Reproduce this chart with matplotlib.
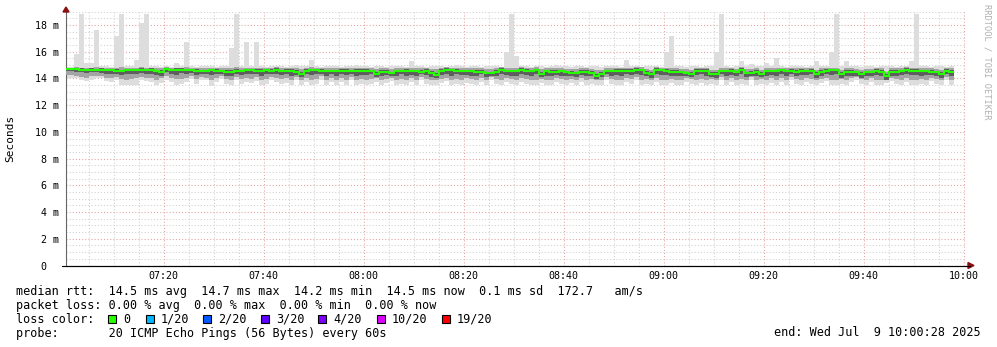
import numpy as np
import matplotlib
matplotlib.use("Agg")
import matplotlib.pyplot as plt
from matplotlib.ticker import MultipleLocator
from matplotlib.patches import Rectangle, Polygon

# minutes after 07:00, one column per minute (20 pings each), values in ms
# median rtt
med = [
    14.70, 14.70, 14.70, 14.66, 14.63, 14.63, 14.63, 14.63, 14.60, 14.60,
    14.55, 14.55, 14.61, 14.60, 14.60, 14.63, 14.63, 14.63, 14.55, 14.48,
    14.68, 14.61, 14.63, 14.65, 14.60, 14.60, 14.55, 14.53, 14.53, 14.61,
    14.58, 14.53, 14.48, 14.48, 14.55, 14.55, 14.60, 14.60, 14.57, 14.57,
    14.61, 14.55, 14.63, 14.55, 14.58, 14.58, 14.48, 14.35, 14.57, 14.61,
    14.61, 14.55, 14.55, 14.53, 14.53, 14.58, 14.58, 14.55, 14.57, 14.57,
    14.58, 14.53, 14.35, 14.48, 14.48, 14.38, 14.53, 14.53, 14.55, 14.53,
    14.53, 14.47, 14.57, 14.42, 14.28, 14.55, 14.63, 14.60, 14.55, 14.55,
    14.53, 14.53, 14.50, 14.50, 14.38, 14.38, 14.47, 14.63, 14.53, 14.53,
    14.53, 14.62, 14.55, 14.55, 14.62, 14.36, 14.53, 14.48, 14.48, 14.53,
    14.45, 14.43, 14.40, 14.50, 14.50, 14.42, 14.20, 14.35, 14.53, 14.53,
    14.58, 14.55, 14.55, 14.58, 14.62, 14.62, 14.43, 14.35, 14.62, 14.60,
    14.58, 14.48, 14.48, 14.45, 14.40, 14.35, 14.57, 14.57, 14.57, 14.35,
    14.35, 14.53, 14.53, 14.57, 14.45, 14.63, 14.38, 14.42, 14.48, 14.35,
    14.53, 14.53, 14.53, 14.60, 14.53, 14.58, 14.48, 14.58, 14.53, 14.58,
    14.35, 14.48, 14.58, 14.60, 14.60, 14.35, 14.48, 14.48, 14.45, 14.35,
    14.45, 14.45, 14.57, 14.48, 14.18, 14.48, 14.48, 14.53, 14.63, 14.57,
    14.57, 14.53, 14.53, 14.50, 14.45, 14.33, 14.57, 14.50,
]
# slowest ping
hi = [
    14.85, 14.85, 15.80, 18.80, 15.15, 15.15, 17.60, 14.95, 14.90, 14.85,
    17.15, 18.80, 14.95, 14.90, 15.40, 18.15, 18.80, 14.90, 14.95, 14.85,
    14.90, 14.85, 15.15, 14.95, 16.70, 14.90, 14.85, 14.95, 14.90, 14.95,
    14.85, 14.90, 14.95, 16.30, 18.80, 14.90, 16.70, 14.95, 16.70, 14.90,
    14.85, 14.95, 14.90, 14.95, 14.85, 14.90, 15.00, 14.95, 14.90, 15.40,
    14.95, 14.85, 14.90, 14.95, 14.90, 14.85, 14.95, 14.90, 15.00, 14.90,
    14.90, 14.85, 14.95, 14.90, 14.85, 14.95, 14.90, 14.95, 14.85, 15.30,
    14.90, 14.95, 14.85, 14.90, 14.95, 14.90, 14.85, 14.95, 15.00, 14.90,
    14.85, 14.95, 14.90, 14.85, 14.95, 14.90, 14.95, 14.85, 16.00, 18.80,
    15.70, 14.90, 14.95, 14.85, 14.90, 14.95, 14.85, 14.90, 15.00, 14.95,
    14.90, 14.85, 14.95, 14.90, 14.85, 14.95, 14.90, 14.85, 14.95, 14.90,
    14.95, 14.85, 15.40, 14.90, 14.95, 14.85, 14.90, 14.95, 14.90, 14.85,
    16.00, 17.15, 14.90, 14.95, 14.85, 14.90, 14.95, 14.85, 14.90, 14.95,
    16.00, 18.80, 14.90, 14.85, 14.95, 15.30, 14.90, 15.05, 14.95, 14.90,
    15.15, 14.90, 15.55, 14.95, 14.85, 14.90, 14.95, 14.90, 14.85, 14.95,
    15.30, 14.90, 14.95, 16.00, 18.80, 14.90, 15.30, 14.95, 14.90, 14.85,
    14.95, 14.90, 14.85, 14.95, 14.90, 14.95, 14.85, 14.90, 14.95, 15.30,
    18.80, 14.95, 14.90, 14.85, 14.95, 14.90, 14.85, 14.90,
]
# fastest ping
lo = [
    14.05, 14.05, 14.05, 13.85, 13.80, 13.85, 14.05, 14.00, 13.80, 13.75,
    13.85, 13.55, 13.55, 13.55, 13.55, 13.85, 13.80, 13.75, 13.55, 13.65,
    13.90, 13.75, 13.55, 13.60, 13.70, 13.95, 13.60, 13.85, 13.85, 13.45,
    13.75, 13.95, 13.60, 13.55, 13.85, 13.60, 13.70, 13.65, 13.80, 13.55,
    13.60, 13.85, 13.70, 13.60, 13.65, 13.55, 13.85, 13.50, 13.75, 13.55,
    13.60, 13.90, 13.55, 13.70, 13.50, 13.75, 13.55, 13.85, 13.50, 13.60,
    13.55, 13.60, 13.75, 13.50, 13.65, 13.80, 13.55, 13.60, 13.50, 13.70,
    13.55, 13.85, 13.60, 13.50, 13.55, 13.65, 13.80, 13.50, 13.60, 13.55,
    13.65, 13.60, 13.50, 13.75, 13.55, 13.85, 13.60, 13.55, 13.75, 13.60,
    13.55, 13.70, 13.60, 13.55, 13.50, 13.65, 13.55, 13.50, 13.70, 13.60,
    13.55, 13.65, 13.50, 13.75, 13.55, 13.60, 13.50, 13.55, 13.85, 13.60,
    13.55, 13.50, 13.75, 13.60, 13.85, 13.55, 13.60, 13.50, 13.70, 13.55,
    13.55, 13.65, 13.50, 13.55, 13.70, 13.60, 13.55, 13.65, 13.50, 13.60,
    13.55, 13.85, 13.55, 13.70, 13.50, 13.60, 13.55, 13.85, 13.55, 13.60,
    13.50, 13.65, 13.55, 13.70, 13.55, 13.85, 13.60, 13.55, 13.70, 13.60,
    13.55, 13.65, 13.80, 13.50, 13.55, 13.60, 13.50, 13.75, 13.85, 13.60,
    13.55, 13.75, 13.50, 13.55, 13.65, 13.80, 13.60, 13.55, 13.70, 13.50,
    13.55, 13.60, 13.55, 13.80, 13.60, 13.55, 13.85, 13.55,
]
# middle smoke band (upper / lower)
mhi = [
    14.82, 14.82, 14.85, 14.80, 14.78, 14.82, 14.85, 14.80, 14.78, 14.82,
    14.80, 14.85, 14.78, 14.82, 14.80, 14.85, 14.80, 14.78, 14.82, 14.75,
    14.85, 14.80, 14.82, 14.78, 14.85, 14.80, 14.78, 14.80, 14.82, 14.78,
    14.80, 14.75, 14.78, 14.82, 14.85, 14.78, 14.80, 14.82, 14.78, 14.80,
    14.82, 14.78, 14.85, 14.78, 14.80, 14.82, 14.75, 14.72, 14.80, 14.85,
    14.82, 14.78, 14.80, 14.75, 14.78, 14.82, 14.80, 14.78, 14.82, 14.80,
    14.80, 14.78, 14.72, 14.75, 14.78, 14.72, 14.80, 14.78, 14.80, 14.82,
    14.78, 14.75, 14.80, 14.72, 14.70, 14.80, 14.85, 14.82, 14.80, 14.78,
    14.78, 14.80, 14.75, 14.78, 14.72, 14.72, 14.78, 14.85, 14.82, 14.80,
    14.80, 14.85, 14.78, 14.80, 14.85, 14.72, 14.78, 14.75, 14.75, 14.78,
    14.72, 14.70, 14.68, 14.75, 14.75, 14.70, 14.60, 14.65, 14.78, 14.78,
    14.82, 14.80, 14.80, 14.82, 14.85, 14.85, 14.72, 14.65, 14.85, 14.82,
    14.82, 14.75, 14.75, 14.72, 14.70, 14.65, 14.80, 14.80, 14.80, 14.65,
    14.65, 14.78, 14.78, 14.80, 14.72, 14.85, 14.68, 14.72, 14.75, 14.65,
    14.78, 14.78, 14.78, 14.82, 14.78, 14.80, 14.75, 14.82, 14.78, 14.80,
    14.65, 14.75, 14.80, 14.82, 14.82, 14.65, 14.75, 14.75, 14.72, 14.65,
    14.72, 14.72, 14.80, 14.75, 14.50, 14.75, 14.75, 14.78, 14.85, 14.80,
    14.80, 14.78, 14.78, 14.75, 14.72, 14.65, 14.80, 14.75,
]
mlo = [
    14.25, 14.25, 14.20, 14.10, 14.05, 14.15, 14.20, 14.15, 14.05, 14.00,
    14.10, 13.95, 13.90, 13.95, 14.00, 14.10, 14.05, 14.00, 13.90, 14.00,
    14.15, 14.05, 13.95, 13.95, 14.05, 14.20, 13.95, 14.10, 14.05, 13.90,
    14.00, 14.20, 13.95, 13.90, 14.10, 13.95, 14.00, 13.95, 14.10, 13.90,
    13.95, 14.10, 14.00, 13.95, 14.00, 13.90, 14.10, 13.85, 14.00, 13.90,
    13.95, 14.15, 13.90, 14.00, 13.85, 14.00, 13.90, 14.10, 13.85, 13.95,
    13.90, 13.95, 14.00, 13.85, 13.95, 14.05, 13.90, 13.95, 13.85, 14.00,
    13.90, 14.10, 13.95, 13.85, 13.90, 13.95, 14.05, 13.85, 13.95, 13.90,
    14.00, 13.95, 13.85, 14.00, 13.90, 14.10, 13.95, 13.90, 14.00, 13.95,
    13.90, 14.00, 13.95, 13.90, 13.85, 13.95, 13.90, 13.85, 14.00, 13.95,
    13.90, 13.95, 13.85, 14.00, 13.90, 13.95, 13.85, 13.90, 14.10, 13.95,
    13.90, 13.85, 14.00, 13.95, 14.10, 13.90, 13.95, 13.85, 14.00, 13.90,
    13.90, 13.95, 13.85, 13.90, 14.00, 13.95, 13.90, 13.95, 13.85, 13.95,
    13.90, 14.10, 13.90, 14.00, 13.85, 13.95, 13.90, 14.10, 13.90, 13.95,
    13.85, 14.00, 13.90, 14.00, 13.90, 14.10, 13.95, 13.90, 14.00, 13.95,
    13.90, 13.95, 14.05, 13.85, 13.90, 13.95, 13.85, 14.00, 14.10, 13.95,
    13.90, 14.00, 13.85, 13.90, 13.95, 14.05, 13.95, 13.90, 14.00, 13.85,
    13.90, 13.95, 13.90, 14.05, 13.95, 13.90, 14.10, 13.90,
]
# dense core around the median
dhi = [
    14.80, 14.80, 14.80, 14.75, 14.72, 14.75, 14.72, 14.75, 14.70, 14.72,
    14.68, 14.65, 14.72, 14.70, 14.72, 14.75, 14.72, 14.75, 14.65, 14.60,
    14.78, 14.72, 14.75, 14.75, 14.72, 14.70, 14.68, 14.65, 14.65, 14.72,
    14.70, 14.65, 14.60, 14.60, 14.68, 14.65, 14.72, 14.70, 14.68, 14.70,
    14.72, 14.68, 14.75, 14.65, 14.70, 14.70, 14.60, 14.50, 14.68, 14.72,
    14.72, 14.68, 14.65, 14.65, 14.65, 14.70, 14.70, 14.65, 14.70, 14.68,
    14.70, 14.65, 14.50, 14.60, 14.60, 14.50, 14.65, 14.65, 14.68, 14.65,
    14.65, 14.60, 14.70, 14.55, 14.42, 14.68, 14.75, 14.72, 14.68, 14.65,
    14.65, 14.65, 14.62, 14.62, 14.50, 14.50, 14.60, 14.75, 14.65, 14.65,
    14.65, 14.75, 14.68, 14.65, 14.72, 14.50, 14.65, 14.60, 14.60, 14.65,
    14.58, 14.55, 14.52, 14.62, 14.62, 14.55, 14.35, 14.48, 14.65, 14.65,
    14.70, 14.68, 14.68, 14.70, 14.75, 14.72, 14.55, 14.48, 14.75, 14.72,
    14.70, 14.60, 14.60, 14.58, 14.52, 14.48, 14.70, 14.68, 14.70, 14.48,
    14.48, 14.65, 14.65, 14.70, 14.58, 14.75, 14.50, 14.55, 14.60, 14.48,
    14.65, 14.65, 14.65, 14.72, 14.65, 14.70, 14.60, 14.70, 14.65, 14.70,
    14.48, 14.60, 14.70, 14.72, 14.72, 14.48, 14.60, 14.60, 14.58, 14.48,
    14.58, 14.58, 14.70, 14.60, 14.32, 14.60, 14.60, 14.65, 14.75, 14.70,
    14.70, 14.65, 14.65, 14.62, 14.58, 14.45, 14.70, 14.62,
]
dlo = [
    14.55, 14.55, 14.50, 14.45, 14.40, 14.45, 14.50, 14.42, 14.35, 14.30,
    14.35, 14.25, 14.30, 14.35, 14.30, 14.40, 14.35, 14.30, 14.25, 14.20,
    14.45, 14.30, 14.25, 14.40, 14.35, 14.40, 14.25, 14.30, 14.35, 14.25,
    14.35, 14.30, 14.15, 14.20, 14.35, 14.25, 14.30, 14.35, 14.30, 14.20,
    14.30, 14.35, 14.30, 14.25, 14.30, 14.20, 14.25, 14.10, 14.30, 14.25,
    14.30, 14.35, 14.20, 14.30, 14.15, 14.30, 14.25, 14.35, 14.20, 14.25,
    14.25, 14.30, 14.10, 14.15, 14.25, 14.15, 14.20, 14.30, 14.15, 14.25,
    14.20, 14.30, 14.25, 14.10, 14.05, 14.25, 14.35, 14.20, 14.30, 14.25,
    14.25, 14.20, 14.15, 14.30, 14.10, 14.15, 14.20, 14.30, 14.25, 14.20,
    14.20, 14.30, 14.25, 14.20, 14.30, 14.10, 14.20, 14.15, 14.25, 14.20,
    14.15, 14.20, 14.10, 14.25, 14.20, 14.15, 13.95, 14.10, 14.30, 14.20,
    14.25, 14.20, 14.30, 14.25, 14.35, 14.25, 14.15, 14.05, 14.30, 14.25,
    14.25, 14.20, 14.15, 14.15, 14.20, 14.10, 14.25, 14.30, 14.20, 14.10,
    14.05, 14.30, 14.20, 14.25, 14.15, 14.30, 14.10, 14.20, 14.15, 14.10,
    14.20, 14.25, 14.20, 14.30, 14.20, 14.35, 14.20, 14.25, 14.25, 14.30,
    14.05, 14.20, 14.30, 14.25, 14.30, 14.05, 14.15, 14.20, 14.20, 14.05,
    14.15, 14.20, 14.25, 14.20, 13.90, 14.20, 14.15, 14.25, 14.30, 14.25,
    14.25, 14.20, 14.25, 14.25, 14.15, 14.05, 14.30, 14.20,
]

time_ticks = [20, 40, 60, 80, 100, 120, 140, 160, 180]
time_labels = ["07:20", "07:40", "08:00", "08:20", "08:40",
               "09:00", "09:20", "09:40", "10:00"]
y_ticks = [0, 2, 4, 6, 8, 10, 12, 14, 16, 18]
y_labels = ["0  ", "2 m", "4 m", "6 m", "8 m", "10 m", "12 m", "14 m", "16 m", "18 m"]

loss_names = ["0", "1/20", "2/20", "3/20", "4/20", "10/20", "19/20"]
loss_colors = ["#26ff00", "#00b8ff", "#0059ff", "#5e00ff", "#7e00ff", "#dd00ff", "#ff0000"]

MONO = "DejaVu Sans Mono"
W, H = 997, 347
fig = plt.figure(figsize=(W / 100, H / 100), dpi=100)
ax = fig.add_axes([66 / W, (H - 265.5) / H, 900 / W, 253.8 / H])

edges = np.arange(len(med) + 1)
ax.stairs(hi, edges, baseline=lo, fill=True, color="#dddddd", lw=0, zorder=2)
ax.stairs(mhi, edges, baseline=mlo, fill=True, color="#a4a4a4", lw=0, zorder=3)
ax.stairs(dhi, edges, baseline=dlo, fill=True, color="#5e5e5e", lw=0, zorder=4)
ax.stairs(med, edges, baseline=None, color="#26ff00", lw=1.5, zorder=5)

ax.set_xlim(28 / 60, 180 + 28 / 60)
ax.set_ylim(0, 19.0)
ax.set_xticks(time_ticks, time_labels)
ax.set_yticks(y_ticks, y_labels)
ax.xaxis.set_minor_locator(MultipleLocator(5))
ax.yaxis.set_minor_locator(MultipleLocator(0.5))
ax.set_axisbelow(True)
ax.grid(which="minor", color="#cfcfcf", ls=(0, (1, 2)), lw=0.75)
ax.grid(which="major", color="#e4a0a0", ls=(0, (1, 2)), lw=0.75)
ax.tick_params(which="both", length=0)
ax.tick_params(axis="x", pad=4, labelsize=7.2)
ax.tick_params(axis="y", pad=5, labelsize=7.2)
for lab in ax.get_xticklabels() + ax.get_yticklabels():
    lab.set_family(MONO)
ax.spines["top"].set_visible(False)
ax.spines["right"].set_visible(False)
ax.spines["left"].set_color("#666666")
ax.spines["left"].set_linewidth(0.8)
ax.spines["bottom"].set_color("black")
ax.spines["bottom"].set_linewidth(0.8)
ax.set_ylabel("Seconds", family=MONO, fontsize=8)
ax.yaxis.set_label_coords(-51 / 900, 0.5)

# overlay in pixel coordinates for legend block, arrows, watermark
ov = fig.add_axes([0, 0, 1, 1], zorder=10)
ov.set_xlim(0, W)
ov.set_ylim(H, 0)
ov.axis("off")
ov.patch.set_alpha(0)

ov.plot([62, 970], [265.5, 265.5], color="black", lw=0.8)
ov.add_patch(Polygon([(63, 12), (69, 12), (66, 7)], closed=True, color="#8b1010"))
ov.add_patch(Polygon([(968, 262.5), (968, 268.5), (974, 265.5)], closed=True, color="#8b1010"))

ov.text(987, 4, "RRDTOOL / TOBI OETIKER", rotation=270, ha="center", va="top",
        family=MONO, fontsize=6.2, color="#b0b0b0")

fs = 8.5
ov.text(16, 291.5, "median rtt:  14.5 ms avg  14.7 ms max  14.2 ms min  14.5 ms now  0.1 ms sd  172.7   am/s",
        family=MONO, fontsize=fs, va="center")
ov.text(16, 305.5, "packet loss: 0.00 % avg  0.00 % max  0.00 % min  0.00 % now",
        family=MONO, fontsize=fs, va="center")
ov.text(16, 319.5, "loss color:", family=MONO, fontsize=fs, va="center")
sq_x = [108, 146, 203, 261, 318, 377, 442]
for sx, name, col in zip(sq_x, loss_names, loss_colors):
    ov.add_patch(Rectangle((sx, 315), 8, 8, facecolor=col, edgecolor="black", lw=0.8))
    ov.text(sx + 15, 319.5, name, family=MONO, fontsize=fs, va="center")
ov.text(16, 333, "probe:       20 ICMP Echo Pings (56 Bytes) every 60s",
        family=MONO, fontsize=fs, va="center")
ov.text(981, 333, "end: Wed Jul  9 10:00:28 2025", family=MONO, fontsize=fs,
        va="center", ha="right")

fig.savefig("out.png", dpi=100)
